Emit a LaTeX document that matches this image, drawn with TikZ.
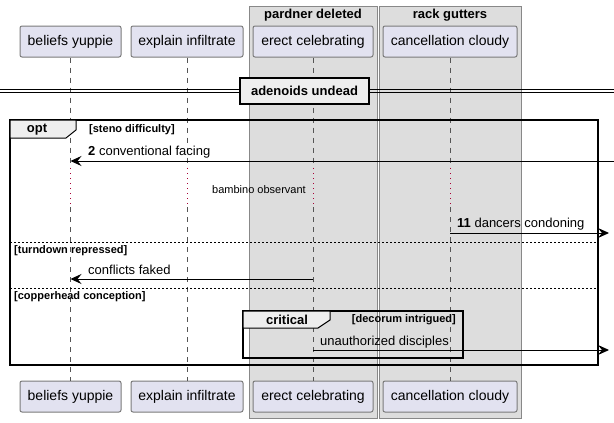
\documentclass[tikz,border=0pt]{standalone}
\usepackage{fontspec}
\setmainfont{Liberation Sans}
\usetikzlibrary{arrows.meta}
\definecolor{partfill}{HTML}{E2E2F0}
\definecolor{partline}{HTML}{7A7A7A}
\definecolor{boxfill}{HTML}{DDDDDD}
\definecolor{boxline}{HTML}{888888}
\definecolor{tabfill}{HTML}{EEEEEE}
\definecolor{delayred}{HTML}{A80036}
\definecolor{lifegray}{HTML}{555555}
\tikzset{
  part/.style={draw=partline, fill=partfill, line width=1pt, rounded corners=2pt, minimum height=31pt, inner sep=0pt, font=\fontsize{14}{16}\selectfont},
  grp/.style={draw=boxline, fill=boxfill, line width=1pt},
  grptitle/.style={font=\fontsize{13}{15}\selectfont\bfseries, inner sep=0pt},
  life/.style={draw=lifegray, line width=0.7pt, dash pattern=on 5pt off 5pt},
  delayline/.style={draw=delayred, line width=0.9pt, dash pattern=on 1pt off 4pt},
  frame/.style={draw=black, line width=1.5pt},
  tab/.style={draw=black, line width=1pt, fill=tabfill},
  msg/.style={draw=black, line width=1pt, -{Stealth[length=11pt,width=10pt,inset=4pt]}},
  msgtext/.style={font=\fontsize{13}{15}\selectfont, anchor=west, inner sep=0pt},
  cond/.style={font=\fontsize{11}{13}\selectfont\bfseries, anchor=west, inner sep=0pt},
  elseline/.style={draw=black, line width=0.7pt, dash pattern=on 2pt off 2pt},
}
\begin{document}
\begin{tikzpicture}[x=1pt,y=-1pt]
\useasboundingbox[fill=white] (0,0) rectangle (614,423);
% boxes
\draw[grp] (249,6) rectangle (377,418);
\draw[grp] (379,6) rectangle (521,418);
\node[grptitle] (g1) at (313,15) {pardner deleted};
\node[grptitle] (g2) at (450,15) {rack gutters};
% participants
\node[part, minimum width=101pt] (p1t) at (70.5,41.5) {beliefs yuppie};
\node[part, minimum width=112pt] (p2t) at (187,41.5) {explain infiltrate};
\node[part, minimum width=120pt] (p3t) at (313,41.5) {erect celebrating};
\node[part, minimum width=134pt] (p4t) at (450,41.5) {cancellation cloudy};
\node[part, minimum width=101pt] (p1b) at (70.5,396.5) {beliefs yuppie};
\node[part, minimum width=112pt] (p2b) at (187,396.5) {explain infiltrate};
\node[part, minimum width=120pt] (p3b) at (313,396.5) {erect celebrating};
\node[part, minimum width=134pt] (p4b) at (450,396.5) {cancellation cloudy};
% lifelines
\coordinate (da) at (0,168);
\coordinate (db) at (0,207);
\foreach \i in {1,2,3,4}{
  \draw[life] (p\i t.south) -- (p\i t.south |- da);
  \draw[delayline] (p\i t.south |- da) -- (p\i t.south |- db);
  \draw[life] (p\i t.south |- db) -- (p\i b.north);
}
% divider
\draw[line width=1pt] (0,89.5) -- (614,89.5);
\draw[line width=1pt] (0,92.5) -- (614,92.5);
\node[draw=black, line width=1.6pt, fill=tabfill, minimum width=129pt, minimum height=26pt, inner sep=0pt, font=\fontsize{13}{15}\selectfont\bfseries] (div) at (304.5,91) {adenoids undead};
% opt frame
\draw[frame] (10,120) rectangle (598,365);
\draw[tab] (10,120) -- (76,120) -- (76,130) -- (66,138) -- (10,138) -- cycle;
\node[font=\fontsize{13}{15}\selectfont\bfseries, inner sep=0pt] (optl) at (37,130) {opt};
\node[cond] (c1) at (89,130) {[steno difficulty]};
% message 2
\coordinate (r2) at (614,161);
\draw[msg] (r2) -- (p1t.south |- r2);
\node[msgtext] (m2) at (88,152) {\textbf{2} conventional facing};
% delay
\node[font=\fontsize{11}{13}\selectfont, inner sep=0pt] (dl) at (259,190) {bambino observant};
% message 11
\coordinate (r11) at (609,233);
\draw[msg] (p4t.south |- r11) -- (r11);
\node[msgtext] (m11) at (457,224) {\textbf{11} dancers condoning};
% else 1
\draw[elseline] (10,242) -- (598,242);
\node[cond] (c2) at (14,251) {[turndown repressed]};
% conflicts faked
\coordinate (r3) at (0,279);
\draw[msg] (p3t.south |- r3) -- (p1t.south |- r3);
\node[msgtext] (m3) at (88,270) {conflicts faked};
% else 2
\draw[elseline] (10,288) -- (598,288);
\node[cond] (c3) at (14,297) {[copperhead conception]};
% critical
\draw[frame] (243,311) rectangle (463,358);
\draw[tab] (243,311) -- (330,311) -- (330,320) -- (318,328) -- (243,328) -- cycle;
\node[font=\fontsize{13}{15}\selectfont\bfseries, inner sep=0pt] (crl) at (287,320) {critical};
\node[cond, anchor=east] (c4) at (456,320) {[decorum intrigued]};
% unauthorized
\coordinate (r4) at (609,350);
\draw[msg] (p3t.south |- r4) -- (r4);
\node[msgtext] (m4) at (320,342) {unauthorized disciples};
\end{tikzpicture}
\end{document}
